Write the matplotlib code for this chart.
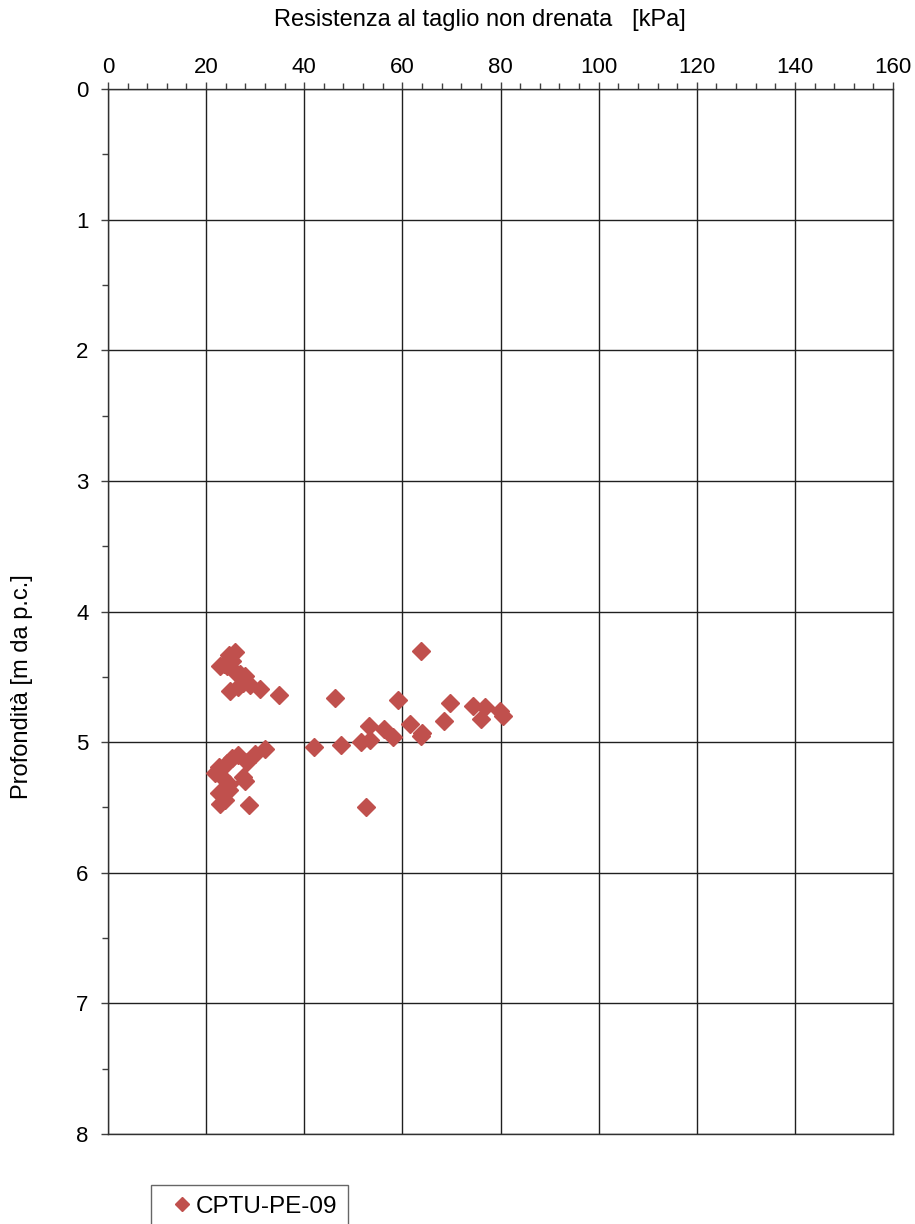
import matplotlib
matplotlib.use('Agg')
import matplotlib.pyplot as plt
import matplotlib.ticker as ticker

plt.rcParams['font.family'] = ['Liberation Sans', 'DejaVu Sans']

SERIES_LABEL = 'CPTU-PE-09'
MARKER_COLOR = '#C0504D'

# undrained shear strength [kPa] and depth [m]
su_kpa = [
    25.8, 24.6, 23.6, 22.9, 24.3, 25.3, 25.9, 27.0, 28.0, 27.6,
    26.6, 24.9, 31.0, 34.8, 29.0,
    63.8, 46.3, 59.2, 69.8, 74.3, 76.8, 76.1, 79.8, 80.6, 68.5,
    61.6, 64.0, 63.7, 53.3, 56.2, 58.0, 51.6, 53.5, 47.5, 42.0,
    52.5,
    32.1, 30.0, 28.3, 26.6, 25.3, 24.3, 22.6, 21.9, 23.2, 24.6,
    28.0, 27.6, 22.6, 23.9, 22.9, 28.7, 24.6,
]
depth_m = [
    4.31, 4.33, 4.40, 4.42, 4.42, 4.38, 4.46, 4.48, 4.49, 4.55,
    4.58, 4.61, 4.59, 4.64, 4.56,
    4.30, 4.66, 4.68, 4.70, 4.72, 4.73, 4.82, 4.76, 4.80, 4.84,
    4.86, 4.93, 4.95, 4.88, 4.90, 4.96, 5.00, 4.98, 5.02, 5.04,
    5.50,
    5.05, 5.09, 5.15, 5.10, 5.12, 5.16, 5.19, 5.24, 5.27, 5.32,
    5.30, 5.27, 5.39, 5.44, 5.47, 5.48, 5.37,
]

fig = plt.figure(figsize=(9.15, 12.24), dpi=100)
ax = fig.add_axes([0.118, 0.0735, 0.858, 0.8538])

ax.plot(su_kpa, depth_m, linestyle='none', marker='D', markersize=9.0,
        color=MARKER_COLOR, markeredgecolor=MARKER_COLOR, label=SERIES_LABEL,
        zorder=3, clip_on=False)

ax.set_xlim(0, 160)
ax.set_ylim(8, 0)
ax.xaxis.set_major_locator(ticker.MultipleLocator(20))
ax.xaxis.set_minor_locator(ticker.MultipleLocator(4))
ax.yaxis.set_major_locator(ticker.MultipleLocator(1))
ax.yaxis.set_minor_locator(ticker.MultipleLocator(0.5))
ax.xaxis.tick_top()
ax.xaxis.set_label_position('top')

ax.tick_params(axis='x', which='both', direction='out', top=True, bottom=False,
               labelsize=16, color='#404040', width=1, pad=3)
ax.tick_params(axis='x', which='major', length=5)
ax.tick_params(axis='x', which='minor', length=4)
ax.tick_params(axis='y', which='both', direction='out', labelsize=16,
               color='#404040', width=1, pad=9)
ax.tick_params(axis='y', which='major', length=5)
ax.tick_params(axis='y', which='minor', length=4)

ax.grid(True, which='major', color='#202020', linewidth=1.0)
for side in ('top', 'left', 'right', 'bottom'):
    ax.spines[side].set_color('#303030')
    ax.spines[side].set_linewidth(1.0)

ax.set_xlabel('Resistenza al taglio non drenata   [kPa]', fontsize=17)
ax.set_ylabel('Profondità [m da p.c.]', fontsize=17)
ax.xaxis.set_label_coords(0.474, 1.060)
ax.yaxis.set_label_coords(-0.095, 0.428)

leg = ax.legend(loc='upper left', bbox_to_anchor=(151 / 915, 1 - 1185 / 1224),
                bbox_transform=fig.transFigure, fontsize=17.5, frameon=True,
                fancybox=False, handlelength=1.65, handletextpad=-0.25,
                borderpad=0.45, borderaxespad=0, markerscale=0.75)
leg.get_frame().set_edgecolor('#404040')
leg.get_frame().set_linewidth(1.0)

fig.savefig('out.png', dpi=100)
